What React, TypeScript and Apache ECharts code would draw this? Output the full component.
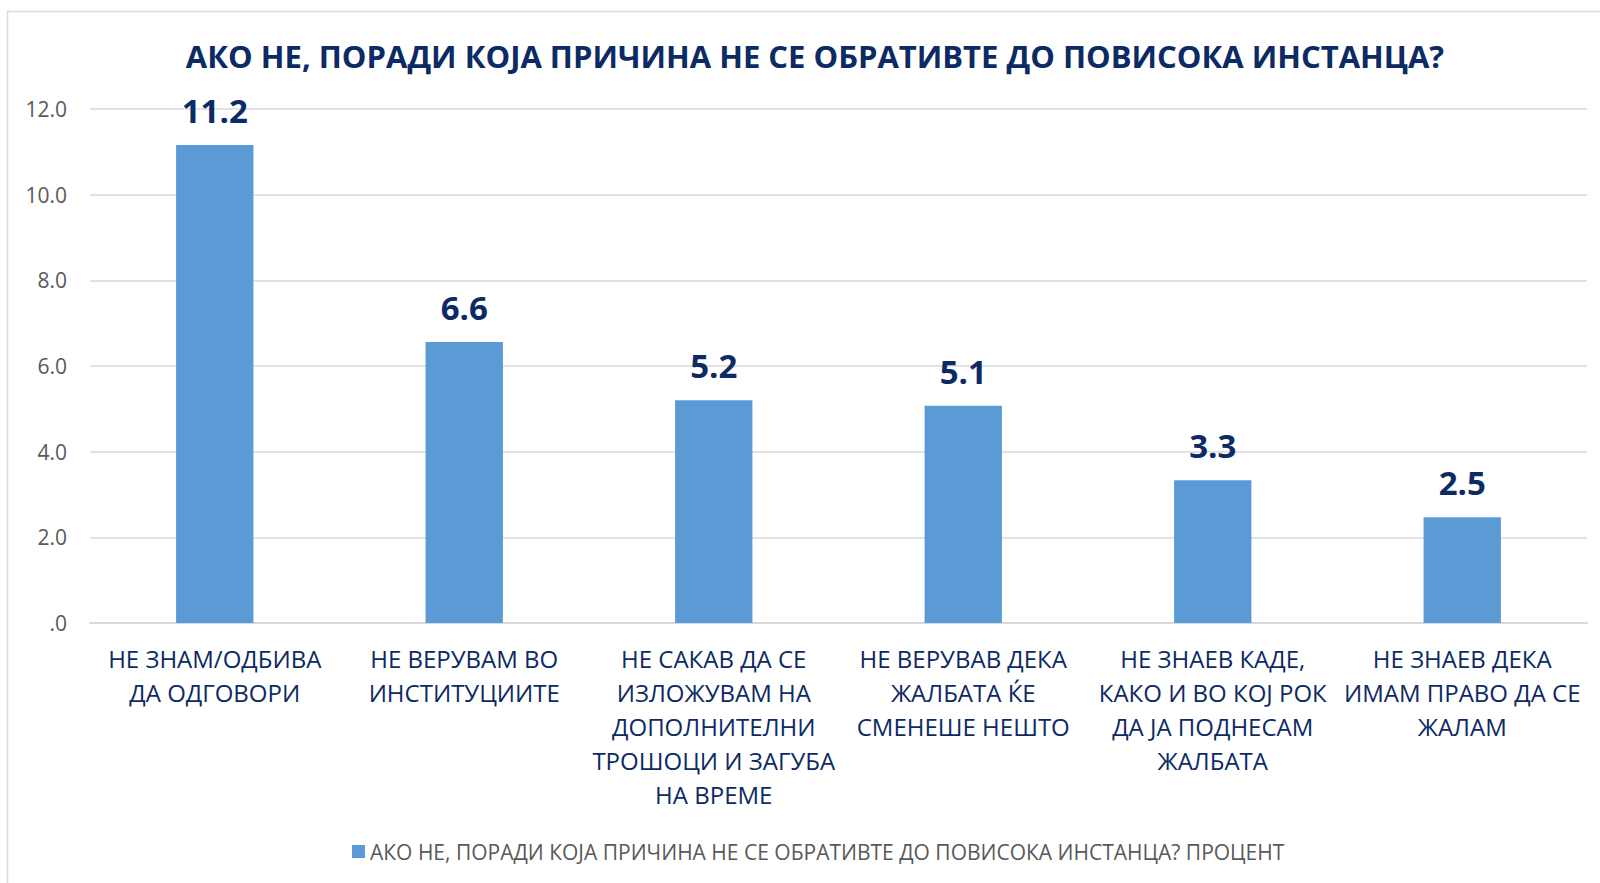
import React, { useEffect, useRef } from "react";
import * as echarts from "echarts";

const TITLE = "АКО НЕ, ПОРАДИ КОЈА ПРИЧИНА НЕ СЕ ОБРАТИВТЕ ДО ПОВИСОКА ИНСТАНЦА?";
const SERIES_NAME = "АКО НЕ, ПОРАДИ КОЈА ПРИЧИНА НЕ СЕ ОБРАТИВТЕ ДО ПОВИСОКА ИНСТАНЦА? ПРОЦЕНТ";

const categories = [
  "НЕ ЗНАМ/ОДБИВА\nДА ОДГОВОРИ",
  "НЕ ВЕРУВАМ ВО\nИНСТИТУЦИИТЕ",
  "НЕ САКАВ ДА СЕ\nИЗЛОЖУВАМ НА\nДОПОЛНИТЕЛНИ\nТРОШОЦИ И ЗАГУБА\nНА ВРЕМЕ",
  "НЕ ВЕРУВАВ ДЕКА\nЖАЛБАТА ЌЕ\nСМЕНЕШЕ НЕШТО",
  "НЕ ЗНАЕВ КАДЕ,\nКАКО И ВО КОЈ РОК\nДА ЈА ПОДНЕСАМ\nЖАЛБАТА",
  "НЕ ЗНАЕВ ДЕКА\nИМАМ ПРАВО ДА СЕ\nЖАЛАМ",
];

const values = [11.16, 6.56, 5.2, 5.07, 3.33, 2.47];

const NAVY = "#0c2a63";
const BAR = "#5b9bd5";
const GRID = "#d9d9d9";
const GRAY = "#595959";
const FONT = "'Open Sans', 'Noto Sans', sans-serif";

export default function App() {
  const ref = useRef<HTMLDivElement>(null);

  useEffect(() => {
    if (!ref.current) return;
    const chart = echarts.init(ref.current, undefined, { renderer: "svg" });
    chart.setOption({
      animation: false,
      backgroundColor: "#ffffff",
      textStyle: { fontFamily: FONT },
      graphic: [
        {
          type: "rect",
          shape: { x: 7.5, y: 11.5, width: 1700, height: 1000 },
          style: { fill: "none", stroke: GRID, lineWidth: 1.5 },
          silent: true,
          z: -10,
        },
        {
          type: "text",
          x: 815,
          y: 56,
          style: {
            text: TITLE,
            fill: NAVY,
            font: `bold 31px ${FONT}`,
            textAlign: "center",
            textVerticalAlign: "middle",
          },
        },
      ],
      legend: {
        show: true,
        left: 347,
        top: 836,
        icon: "rect",
        itemWidth: 13,
        itemHeight: 13,
        itemGap: 5,
        textStyle: { color: GRAY, fontSize: 21, fontFamily: FONT },
        data: [SERIES_NAME],
      },
      grid: { left: 90, right: 13, top: 109, bottom: 260, containLabel: false },
      xAxis: {
        type: "category",
        data: categories,
        axisLine: { show: true, lineStyle: { color: GRID, width: 2 } },
        axisTick: { show: false },
        axisLabel: {
          color: NAVY,
          fontSize: 24,
          lineHeight: 34,
          margin: 18,
          interval: 0,
          fontFamily: FONT,
        },
      },
      yAxis: {
        type: "value",
        min: 0,
        max: 12,
        interval: 2,
        axisLine: { show: false },
        axisTick: { show: false },
        splitLine: { lineStyle: { color: GRID, width: 1.5 } },
        axisLabel: {
          color: GRAY,
          fontSize: 21,
          margin: 23,
          fontFamily: FONT,
          formatter: (v: number) => (v === 0 ? ".0" : v.toFixed(1)),
        },
      },
      series: [
        {
          name: SERIES_NAME,
          type: "bar",
          data: values,
          barWidth: "31%",
          itemStyle: { color: BAR },
          label: {
            show: true,
            position: "top",
            distance: 18,
            color: NAVY,
            fontSize: 33,
            fontWeight: "bold",
            fontFamily: FONT,
            formatter: (p: any) => Number(p.value).toFixed(1),
          },
        },
      ],
    });
    return () => chart.dispose();
  }, []);

  return (
    <div
      ref={ref}
      style={{ position: "fixed", left: 0, top: 0, width: 1600, height: 883 }}
    />
  );
}
